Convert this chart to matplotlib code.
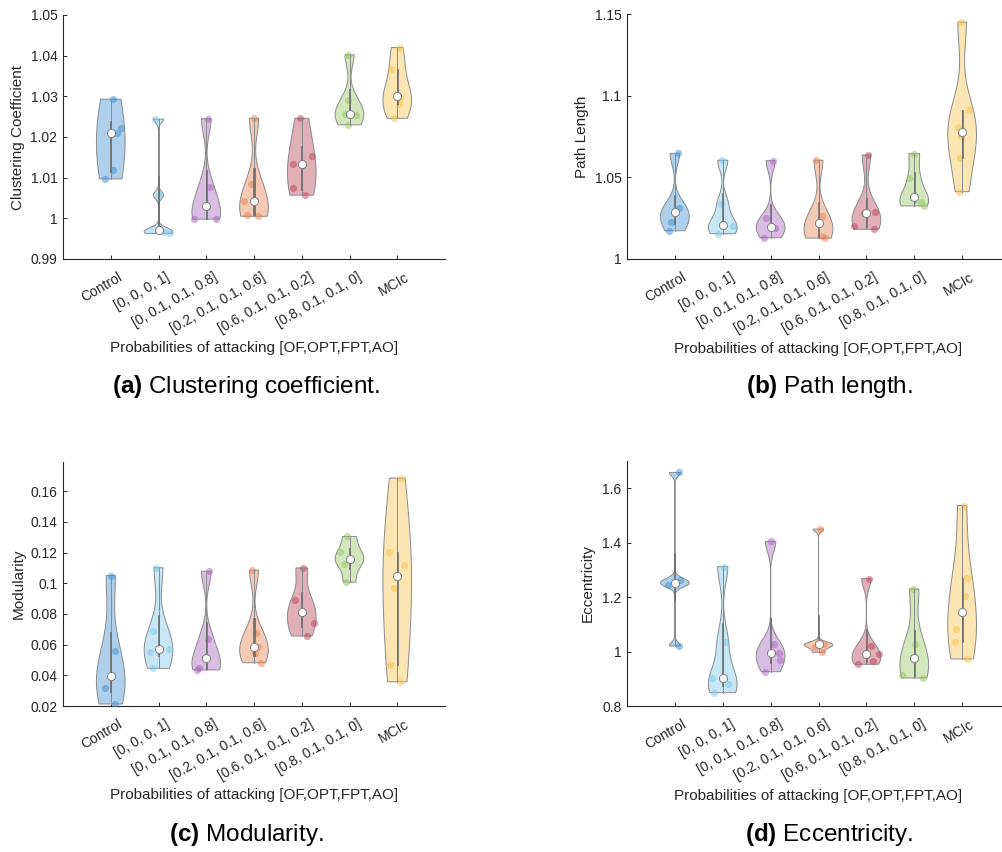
import matplotlib

matplotlib.use("Agg")

import matplotlib.pyplot as plt
import numpy as np
from matplotlib.colors import to_rgba
from matplotlib.transforms import ScaledTranslation

plt.rcParams["font.family"] = ["Liberation Sans", "DejaVu Sans"]
plt.rcParams["mathtext.fontset"] = "custom"
plt.rcParams["mathtext.rm"] = "Liberation Sans"
plt.rcParams["mathtext.bf"] = "Liberation Sans:bold"

groups = [
    "Control",
    "[0, 0, 0, 1]",
    "[0, 0.1, 0.1, 0.8]",
    "[0.2, 0.1, 0.1, 0.6]",
    "[0.6, 0.1, 0.1, 0.2]",
    "[0.8, 0.1, 0.1, 0]",
    "MCIc",
]
colors = ["#3f8fd2", "#7ac7e9", "#a663bc", "#e88250", "#b8425a", "#94c760", "#f7c24a"]

# per-subject values of each measure, one list per group
clustering = [
    [1.0097, 1.0119, 1.0209, 1.0221, 1.0293],
    [0.9963, 0.9967, 0.9971, 1.0057, 1.0244],
    [0.9998, 0.9999, 1.0031, 1.0078, 1.0245],
    [1.0005, 1.0008, 1.0043, 1.0084, 1.0246],
    [1.0057, 1.0074, 1.0133, 1.0154, 1.0246],
    [1.0230, 1.0254, 1.0256, 1.0290, 1.0402],
    [1.0246, 1.0280, 1.0296, 1.0306, 1.0368, 1.0420],
]
path_length = [
    [1.0173, 1.0229, 1.0290, 1.0310, 1.0647],
    [1.0155, 1.0200, 1.0208, 1.0337, 1.0605],
    [1.0130, 1.0192, 1.0194, 1.0249, 1.0602],
    [1.0128, 1.0140, 1.0218, 1.0263, 1.0605],
    [1.0182, 1.0204, 1.0284, 1.0287, 1.0637],
    [1.0325, 1.0350, 1.0382, 1.0494, 1.0645],
    [1.0412, 1.0616, 1.0752, 1.0808, 1.0912, 1.1450],
]
modularity = [
    [0.0213, 0.0315, 0.0398, 0.0558, 0.1050],
    [0.0445, 0.0554, 0.0573, 0.0688, 0.1101],
    [0.0435, 0.0445, 0.0515, 0.0637, 0.1078],
    [0.0482, 0.0543, 0.0586, 0.0673, 0.1085],
    [0.0656, 0.0738, 0.0814, 0.0890, 0.1100],
    [0.1007, 0.1125, 0.1157, 0.1205, 0.1305],
    [0.0358, 0.0467, 0.0970, 0.1118, 0.1205, 0.1685],
]
eccentricity = [
    [1.0205, 1.2450, 1.2510, 1.2630, 1.6580],
    [0.8490, 0.8797, 0.9040, 1.0365, 1.3120],
    [0.9260, 0.9690, 0.9936, 1.0280, 1.4050],
    [0.9972, 1.0180, 1.0267, 1.0280, 1.4500],
    [0.9531, 0.9654, 0.9920, 1.0218, 1.2680],
    [0.9030, 0.9140, 0.9776, 1.0280, 1.2300],
    [0.9728, 1.0365, 1.0830, 1.2055, 1.2692, 1.5363],
]

# horizontal jitter of each dot, as a fraction of the violin half-width
clustering_jit = [
    [-0.55, 0.2, 0.45, 0.75, 0.2],
    [0.85, 0.4, 0.0, 0.0, -0.7],
    [-0.93, 0.75, 0.0, 0.45, 0.35],
    [0.3, -0.5, -0.75, -0.36, 0.1],
    [0.25, -0.67, -0.6, 0.77, -0.3],
    [-0.1, 0.45, -0.3, -0.2, -0.3],
    [-0.3, 0.1, 0.2, -0.1, -0.7, 0.5],
]
path_length_jit = [
    [-0.58, -0.25, 0.0, 0.3, 0.6],
    [-0.4, 0.7, 0.0, -0.3, -0.2],
    [-0.65, 0.3, 0.0, -0.4, 0.5],
    [0.5, 0.25, 0.0, 0.3, -0.5],
    [0.6, -0.9, -0.2, 0.7, 0.3],
    [0.75, 0.45, 0.0, -0.7, -0.1],
    [-0.5, -0.2, -0.1, -0.3, 0.6, -0.2],
]
modularity_jit = [
    [0.4, -0.4, 0.0, 0.4, 0.1],
    [-0.5, -0.6, 0.75, -0.5, -0.6],
    [-0.7, -0.5, 0.0, 0.2, 0.5],
    [0.6, 0.1, 0.3, 0.2, -0.4],
    [0.5, 0.9, 0.0, -0.6, 0.2],
    [-0.5, -0.4, 0.0, -0.8, -0.3],
    [0.3, -0.7, -0.2, 0.5, -0.6, 0.5],
]
eccentricity_jit = [
    [0.7, -0.5, 0.0, 0.4, 0.7],
    [-0.7, 0.4, -0.8, 0.6, 0.3],
    [-0.6, 0.7, 0.6, 0.3, 0.1],
    [0.6, -0.3, 0.0, 0.4, 0.2],
    [-0.7, 0.5, 0.95, 0.5, 0.5],
    [0.7, -0.9, 0.0, 0.1, -0.2],
    [0.4, -0.5, -0.4, 0.2, 0.5, 0.5],
]

AXCOL = "#262626"
EDGE = "#8a8a8a"
BOXCOL = "#6e6e6e"


def default_bw(x):
    # normal-reference bandwidth (median absolute deviation based)
    sig = np.median(np.abs(x - np.median(x))) / 0.6745
    if sig <= 0:
        sig = x.max() - x.min()
    return sig * (4.0 / (3.0 * len(x))) ** 0.2


def kde(x, grid, bw):
    z = (grid[:, None] - x[None, :]) / bw
    return np.exp(-0.5 * z ** 2).sum(axis=1) / (len(x) * bw * np.sqrt(2 * np.pi))


def violin(ax, pos, vals, jit, color, width=0.3):
    vals = np.asarray(vals, float)
    yy = np.linspace(vals.min(), vals.max(), 400)
    dens = kde(vals, yy, default_bw(vals))
    half = dens * width / dens.max()

    ax.fill(np.r_[pos + half, pos - half[::-1]], np.r_[yy, yy[::-1]],
            facecolor=to_rgba(color, 0.42), edgecolor=EDGE, lw=0.7, zorder=2)

    xs = pos + np.asarray(jit) * np.interp(vals, yy, half)
    ax.scatter(xs, vals, s=27, color=color, alpha=0.5, lw=0, zorder=3)

    q1, med, q3 = np.quantile(vals, [0.25, 0.5, 0.75], method="hazen")
    iqr = q3 - q1
    lo = max(q1 - 1.5 * iqr, vals[vals > q1 - 1.5 * iqr].min())
    hi = min(q3 + 1.5 * iqr, vals[vals < q3 + 1.5 * iqr].max())
    ax.plot([pos, pos], [lo, hi], color=EDGE, lw=0.7, zorder=4)
    bw = 0.012
    ax.fill([pos - bw, pos + bw, pos + bw, pos - bw], [q1, q1, q3, q3],
            facecolor=BOXCOL, edgecolor=BOXCOL, lw=0.5, zorder=5)
    ax.scatter([pos], [med], s=34, facecolor="white", edgecolor="#808080",
               lw=0.7, zorder=6)


def panel(ax, data, jits, ylim, yticks, ylabel, ylab_x):
    for i, (vals, jit) in enumerate(zip(data, jits)):
        violin(ax, i + 1, vals, jit, colors[i])

    ax.set_xlim(0, 8)
    ax.set_ylim(*ylim)
    ax.set_yticks(yticks)
    ax.set_yticklabels([f"{round(t, 4):g}" for t in yticks])
    ax.set_xticks(np.arange(1, 8))
    ax.set_xticklabels([])
    for s in ("top", "right"):
        ax.spines[s].set_visible(False)
    for s in ("left", "bottom"):
        ax.spines[s].set_color(AXCOL)
        ax.spines[s].set_linewidth(0.8)
    ax.tick_params(direction="in", length=3, width=0.7, colors=AXCOL,
                   labelsize=10, pad=4)

    # rotated group names under the axis
    off = ScaledTranslation(5.0 / 72, -7.9 / 72, ax.figure.dpi_scale_trans)
    for i, name in enumerate(groups):
        ax.text(i + 1, 0, name, transform=ax.get_xaxis_transform() + off,
                rotation=30, rotation_mode="anchor", ha="right", va="top",
                fontsize=10, color=AXCOL, clip_on=False)

    ax.set_xlabel("Probabilities of attacking [OF,OPT,FPT,AO]", fontsize=11,
                  color=AXCOL)
    ax.xaxis.label.set_va("center")
    ax.xaxis.set_label_coords(0.5, -0.366)
    ax.set_ylabel(ylabel, fontsize=11, color=AXCOL)
    ax.yaxis.label.set_va("center")
    ax.yaxis.set_label_coords(ylab_x, 0.5)


W, H = 1002, 852
fig = plt.figure(figsize=(W / 100, H / 100), dpi=100)


def box(left, top, width, height):
    return [left / W, 1 - (top + height) / H, width / W, height / H]


ax_a = fig.add_axes(box(63, 15, 382, 244))
ax_b = fig.add_axes(box(627, 14, 383, 245))
ax_c = fig.add_axes(box(63, 462, 382, 244))
ax_d = fig.add_axes(box(627, 461, 383, 245))

panel(ax_a, clustering, clustering_jit, (0.99, 1.05),
      [0.99, 1.0, 1.01, 1.02, 1.03, 1.04, 1.05], "Clustering Coefficient", -0.118)
panel(ax_b, path_length, path_length_jit, (1.0, 1.15),
      [1.0, 1.05, 1.1, 1.15], "Path Length", -0.117)
panel(ax_c, modularity, modularity_jit, (0.02, 0.179),
      [0.02, 0.04, 0.06, 0.08, 0.1, 0.12, 0.14, 0.16], "Modularity", -0.115)
panel(ax_d, eccentricity, eccentricity_jit, (0.8, 1.7),
      [0.8, 1.0, 1.2, 1.4, 1.6], "Eccentricity", -0.102)

captions = [
    (246, 387, r"$\mathbf{(a)}$ Clustering coefficient."),
    (829, 387, r"$\mathbf{(b)}$ Path length."),
    (246, 834, r"$\mathbf{(c)}$ Modularity."),
    (829, 834, r"$\mathbf{(d)}$ Eccentricity."),
]
for x, y, txt in captions:
    fig.text(x / W, 1 - y / H, txt, ha="center", va="center", fontsize=17.5,
             color="black")

fig.savefig("out.png", dpi=100)
